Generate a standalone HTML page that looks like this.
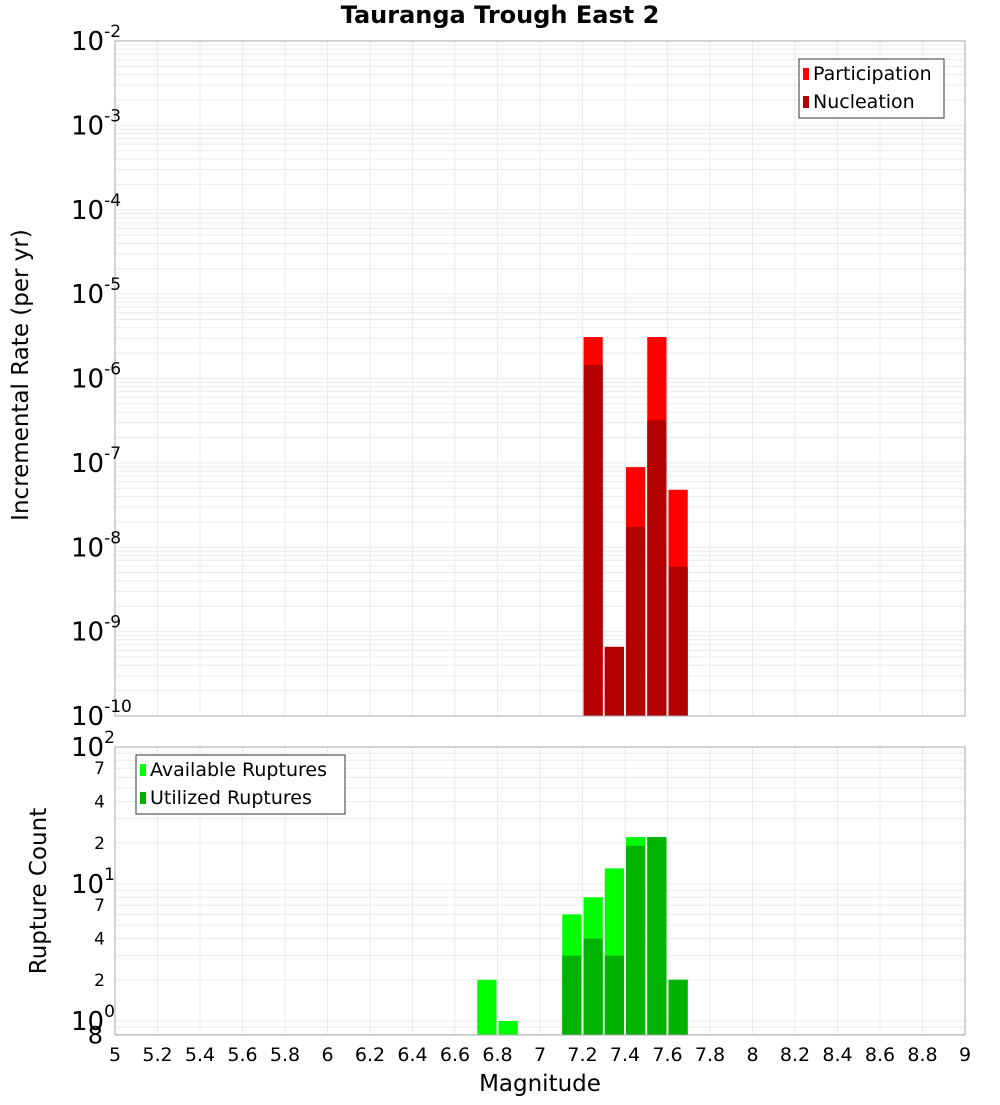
<!DOCTYPE html>
<html><head><meta charset="utf-8"><style>
body{margin:0;background:#fff;width:1000px;height:1100px;overflow:hidden}
svg text{font-family:"DejaVu Sans","Liberation Sans",sans-serif;fill:#000}
</style></head><body>
<svg id="chart" width="1000" height="1100" xmlns="http://www.w3.org/2000/svg"></svg>
<script>
const magnitudes=[7.25,7.35,7.45,7.55,7.65];
const participation=[3.1e-6,6.6e-10,8.9e-8,3.1e-6,4.8e-8];
const nucleation=[1.45e-6,6.6e-10,1.74e-8,3.2e-7,5.9e-9];
const countMags=[6.75,6.85,7.15,7.25,7.35,7.45,7.55,7.65];
const available=[2,1,6,8,13,22,22,2];
const utilized=[0,0,3,4,3,19,22,2];
const xTicks=[5,5.2,5.4,5.6,5.8,6,6.2,6.4,6.6,6.8,7,7.2,7.4,7.6,7.8,8,8.2,8.4,8.6,8.8,9];
const topDecades=[-10,-9,-8,-7,-6,-5,-4,-3,-2];

const svg=document.getElementById('chart');
const NS='http://www.w3.org/2000/svg';
function mk(tag,attrs,parent){const e=document.createElementNS(NS,tag);for(const k in attrs)e.setAttribute(k,attrs[k]);(parent||svg).appendChild(e);return e;}
const L=115,R=965;
const x=m=>L+(m-5)/4*(R-L);
const T1=41,B1=716;
const y1=v=>T1+(-2-Math.log10(v))*(B1-T1)/8;
const T2=747,PPD2=137;
const y2=v=>T2+(2-Math.log10(v))*PPD2;
const B2=1035;

function grid(top,bot,ylines){
  const g=mk('g',{});
  
  
  xTicks.forEach(t=>mk('line',{x1:x(t),x2:x(t),y1:top,y2:bot,stroke:'#ebebeb'},g));
  ylines.forEach(yy=>{if(yy>=top&&yy<=bot)mk('line',{x1:L,x2:R,y1:yy,y2:yy,stroke:'#ebebeb'},g);});
}
let yl1=[];for(let d=-10;d<-2;d++)for(let k=1;k<10;k++)yl1.push(y1(k*Math.pow(10,d)));
grid(T1,B1,yl1);
let yl2=[];[0.8,0.9].forEach(v=>yl2.push(y2(v)));for(let d=0;d<2;d++)for(let k=1;k<10;k++)yl2.push(y2(k*Math.pow(10,d)));yl2.push(y2(100));
grid(T2,B2,yl2);

const title=mk('text',{x:500,y:23,'text-anchor':'middle','font-size':24,'font-weight':'bold'});
title.textContent='Tauranga Trough East 2';



magnitudes.forEach((m,i)=>{
  const bx=x(m-0.05)+1,bw=x(m+0.05)-x(m-0.05)-2;
  const p=mk('rect',{x:bx,y:y1(participation[i]),width:bw,height:B1-y1(participation[i]),fill:'#ff0000'});
  
  
  const n=mk('rect',{x:bx,y:y1(nucleation[i]),width:bw,height:B1-y1(nucleation[i]),fill:'#b30000'});
  
  
});
countMags.forEach((m,i)=>{
  const bx=x(m-0.05)+1,bw=x(m+0.05)-x(m-0.05)-2;
  const a=mk('rect',{x:bx,y:y2(available[i]),width:bw,height:B2-y2(available[i]),fill:'#00ff00'});
  
  
  if(utilized[i]>0){
    const u=mk('rect',{x:bx,y:y2(utilized[i]),width:bw,height:B2-y2(utilized[i]),fill:'#00b300'});
    
    
  }
});
mk('rect',{x:L,y:T1,width:R-L,height:B1-T1,fill:'none',stroke:'#aaa'});
mk('rect',{x:L,y:T2,width:R-L,height:B2-T2,fill:'none',stroke:'#aaa'});

topDecades.forEach(d=>{
  const yy=y1(Math.pow(10,d));
  const t=mk('text',{x:71,y:yy+9,'font-size':26});
  
  
  t.innerHTML='10<tspan dy="-13" font-size="17">'+d+'</tspan>';
});
[[100,'2'],[10,'1'],[1,'0']].forEach(([v,e])=>{
  const t=mk('text',{x:71,y:y2(v)+9,'font-size':26});
  
  
  t.innerHTML='10<tspan dy="-13" font-size="17">'+e+'</tspan>';
});
[[70,'7'],[40,'4'],[20,'2'],[7,'7'],[4,'4'],[2,'2']].forEach(([v,s])=>{
  const t=mk('text',{x:105,y:y2(v)+6,'font-size':17,'text-anchor':'end'});
  
  
  t.textContent=s;
});
const t8=mk('text',{x:103,y:y2(0.8)+9,'font-size':24,'text-anchor':'end'});
t8.textContent='8';



xTicks.forEach(t=>{
  const e=mk('text',{x:x(t),y:1061,'font-size':19,'text-anchor':'middle'});
  
  
  e.textContent=String(t);
});
const xt=mk('text',{x:540,y:1091,'font-size':23,'text-anchor':'middle'});
xt.textContent='Magnitude';


const yt=mk('text',{x:0,y:0,'font-size':23,'text-anchor':'middle',transform:'translate(28,375) rotate(-90)'});
yt.textContent='Incremental Rate (per yr)';


const yt2=mk('text',{x:0,y:0,'font-size':23,'text-anchor':'middle',transform:'translate(46,891) rotate(-90)'});
yt2.textContent='Rupture Count';



function legend(lx,ly,w,items,name){
  const g=mk('g',{});
  
  
  mk('rect',{x:lx,y:ly,width:w,height:59,fill:'#fff',stroke:'#333'},g);
  items.forEach(([c,s],i)=>{
    mk('rect',{x:lx+4,y:ly+9+i*28,width:6,height:12,fill:c},g);
    const t=mk('text',{x:lx+14,y:ly+21+i*28,'font-size':19},g);
    t.textContent=s;
  });
}
legend(799,59,145,[['#ff0000','Participation'],['#b30000','Nucleation']],'rate-legend');
legend(136,755,209,[['#00ff00','Available Ruptures'],['#00b300','Utilized Ruptures']],'count-legend');
</script>
</body></html>
